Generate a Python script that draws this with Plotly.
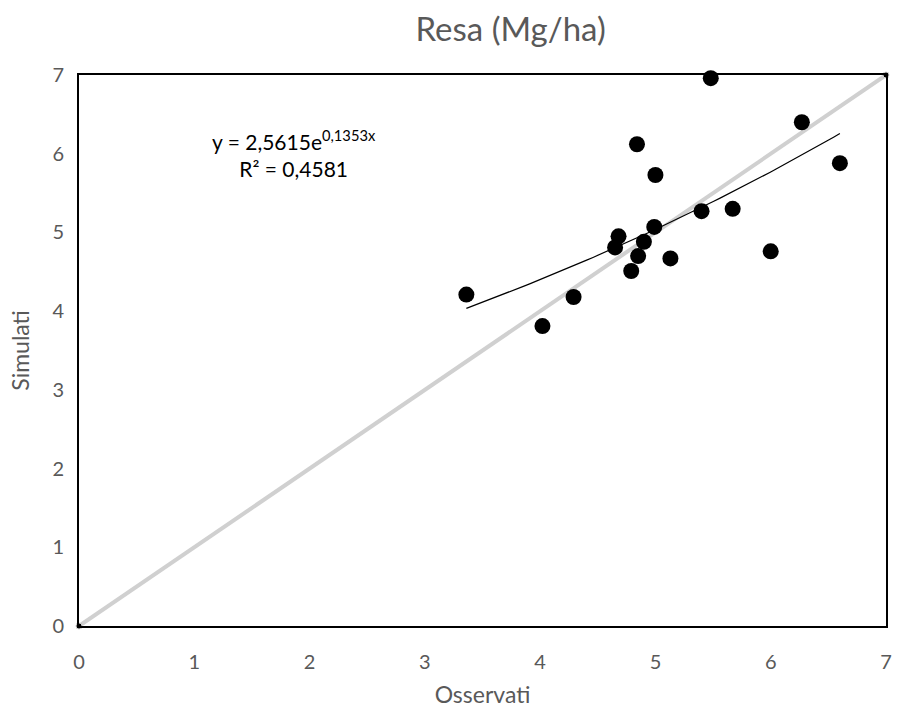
import numpy as np
import plotly.graph_objects as go

osservati = [5.48, 6.27, 4.84, 5.00, 6.60, 5.40, 5.67, 4.99, 4.68, 4.65, 4.90,
             4.85, 5.13, 6.00, 4.79, 3.36, 4.29, 4.02]
simulati = [6.96, 6.40, 6.12, 5.73, 5.88, 5.27, 5.30, 5.07, 4.95, 4.81, 4.88,
            4.70, 4.67, 4.76, 4.51, 4.21, 4.18, 3.81]

# Exponential trend line coefficients (as shown in chart)
trend_a = 2.5615
trend_b = 0.1353
# 1:1 line
diag = [0, 7]

font_fam = "Lato, 'Open Sans', sans-serif"
grey = "#595959"

xt = np.linspace(min(osservati), max(osservati), 60)
yt = trend_a * np.exp(trend_b * xt)

fig = go.Figure()
fig.add_trace(go.Scatter(x=diag, y=diag, mode="lines+markers",
                         line=dict(color="#d0d0d0", width=4),
                         marker=dict(size=6, color="black",
                                     line=dict(color="#d0d0d0", width=1)),
                         cliponaxis=False, hoverinfo="skip"))
fig.add_trace(go.Scatter(x=xt, y=yt, mode="lines",
                         line=dict(color="black", width=1.2)))
fig.add_trace(go.Scatter(x=osservati, y=simulati, mode="markers",
                         marker=dict(size=16, color="black"),
                         cliponaxis=False))

fig.add_annotation(x=0.267, y=0.858, xref="paper", yref="paper",
                   xanchor="center", yanchor="middle",
                   text="y = 2,5615e<sup>0,1353x</sup><br>R² = 0,4581",
                   showarrow=False, align="center",
                   font=dict(family=font_fam, size=21, color="black"))

fig.update_layout(
    width=899, height=713,
    margin=dict(l=79, r=7, t=75, b=87),
    paper_bgcolor="white", plot_bgcolor="white",
    showlegend=False,
    title=dict(text="Resa (Mg/ha)", x=0.568, xanchor="center", y=0.959,
               yanchor="middle",
               font=dict(family=font_fam, size=33, color=grey)),
    font=dict(family=font_fam, color=grey, size=20),
)
fig.update_xaxes(range=[0, 7], dtick=1, showgrid=False, zeroline=False,
                 showline=True, mirror=True, linecolor="black", linewidth=2,
                 ticks="", ticklabelstandoff=17,
                 tickfont=dict(size=20, color=grey),
                 title=dict(text="Osservati", standoff=15,
                            font=dict(size=23, color=grey)))
fig.update_yaxes(range=[0, 7], dtick=1, showgrid=False, zeroline=False,
                 showline=True, mirror=True, linecolor="black", linewidth=2,
                 ticks="", ticklabelstandoff=9,
                 tickfont=dict(size=20, color=grey),
                 title=dict(text="Simulati", standoff=16,
                            font=dict(size=23, color=grey)))

fig.write_html("out.html")
